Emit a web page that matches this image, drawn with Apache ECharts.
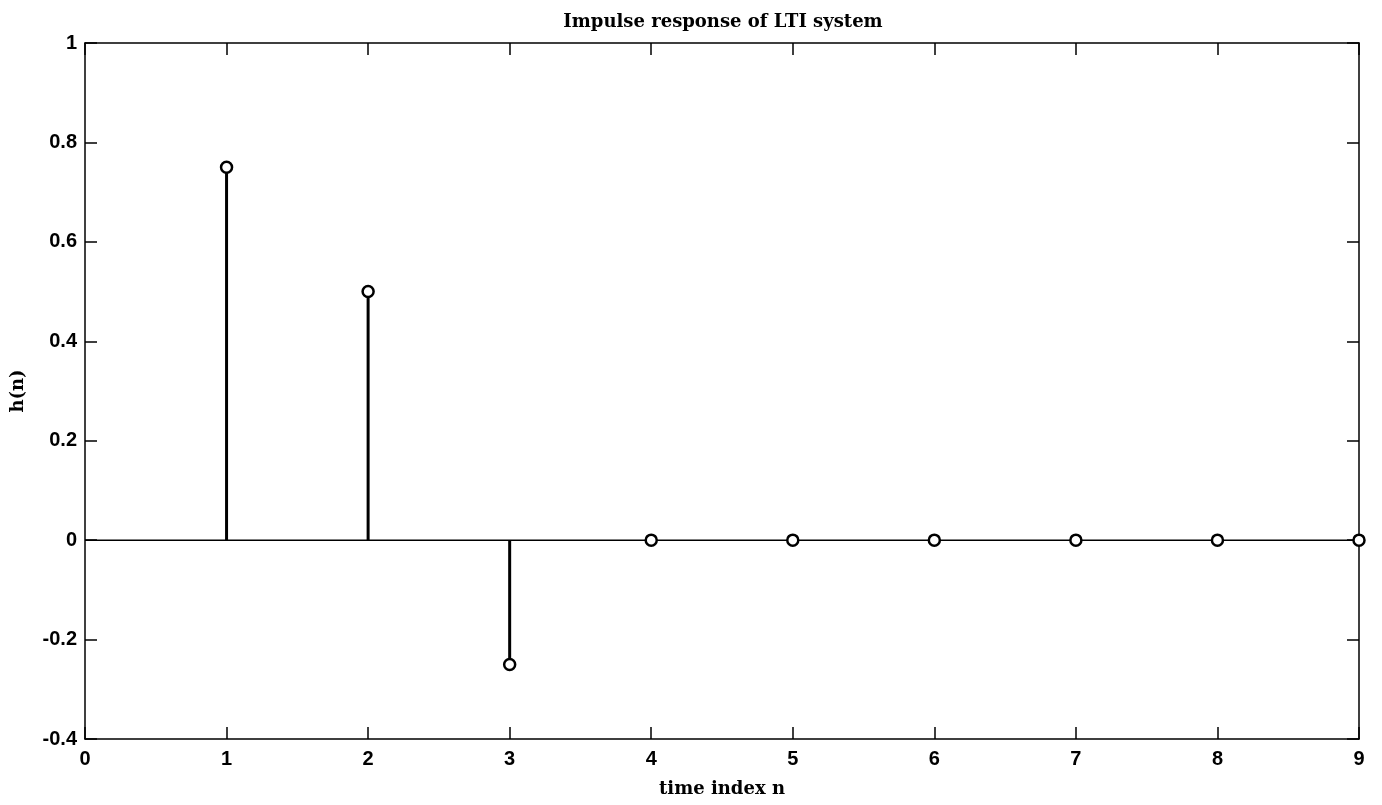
<!DOCTYPE html>
<html><head><meta charset="utf-8">
<script src="https://cdn.jsdelivr.net/npm/echarts@6/dist/echarts.min.js"></script>
<style>html,body{margin:0;padding:0;background:#fff}#c{width:1382px;height:805px}</style>
</head><body><div id="c"></div>
<script>
const nValues = [1, 2, 3, 4, 5, 6, 7, 8, 9];
const hValues = [0.75, 0.5, -0.25, 0, 0, 0, 0, 0, 0];
const xTicks = [0, 1, 2, 3, 4, 5, 6, 7, 8, 9];
const yTickLabels = ['-0.4', '-0.2', '0', '0.2', '0.4', '0.6', '0.8', '1'];
const baseline = [[0, 0], [9, 0]];

const points = nValues.map((n, i) => [n, hValues[i]]);
const tickFont = { fontFamily: 'Liberation Sans', fontWeight: 'bold', fontSize: 20, color: '#000' };
const serifFont = { fontFamily: 'DejaVu Serif', fontWeight: 'bold', fontSize: 18, color: '#000' };
const lineStyle = { color: '#000', width: 1.5 };
function yFmt(v) {
  const idx = Math.round((v + 0.4) / 0.2);
  return yTickLabels[idx] !== undefined ? yTickLabels[idx] : '';
}
const chart = echarts.init(document.getElementById('c'));
chart.setOption({
  animation: false,
  backgroundColor: '#fff',
  title: {
    text: 'Impulse response of LTI system', left: 718, textAlign: 'center', top: 8,
    textStyle: serifFont
  },
  grid: { left: 85, right: 23, top: 43, bottom: 66 },
  xAxis: [{
    type: 'value', min: 0, max: 9, interval: 1, position: 'bottom',
    axisLine: { show: true, onZero: false, lineStyle },
    axisTick: { show: true, inside: true, length: 12, lineStyle },
    axisLabel: Object.assign({ margin: 10, formatter: v => String(xTicks[Math.round(v)]) }, tickFont),
    splitLine: { show: false },
    name: 'time index n', nameLocation: 'middle', nameGap: 41,
    nameTextStyle: serifFont
  }, {
    type: 'value', min: 0, max: 9, interval: 1, position: 'top',
    axisLine: { show: true, onZero: false, lineStyle },
    axisTick: { show: true, inside: true, length: 12, lineStyle },
    axisLabel: { show: false }, splitLine: { show: false }
  }],
  yAxis: [{
    type: 'value', min: -0.4, max: 1, interval: 0.2, position: 'left',
    axisLine: { show: true, onZero: false, lineStyle },
    axisTick: { show: true, inside: true, length: 12, lineStyle },
    axisLabel: Object.assign({ margin: 8, formatter: yFmt }, tickFont),
    splitLine: { show: false },
    name: 'h(n)', nameLocation: 'middle', nameGap: 58, nameRotate: 90,
    nameTextStyle: serifFont
  }, {
    type: 'value', min: -0.4, max: 1, interval: 0.2, position: 'right',
    axisLine: { show: true, onZero: false, lineStyle },
    axisTick: { show: true, inside: true, length: 12, lineStyle },
    axisLabel: { show: false }, splitLine: { show: false }
  }],
  series: [{
    type: 'line', data: baseline, symbol: 'none', silent: true,
    lineStyle: { color: '#000', width: 1.5 }, z: 2
  }, {
    type: 'custom', data: points, z: 3, silent: true,
    renderItem: function (params, api) {
      const p0 = api.coord([api.value(0), 0]);
      const p1 = api.coord([api.value(0), api.value(1)]);
      return { type: 'line', shape: { x1: p0[0], y1: p0[1], x2: p1[0], y2: p1[1] },
        style: { stroke: '#000', lineWidth: 3 } };
    }
  }, {
    type: 'scatter', data: points, symbol: 'circle', symbolSize: 11, clip: false, z: 4,
    itemStyle: { color: '#fff', borderColor: '#000', borderWidth: 2.5, opacity: 1 }
  }]
});
</script></body></html>
